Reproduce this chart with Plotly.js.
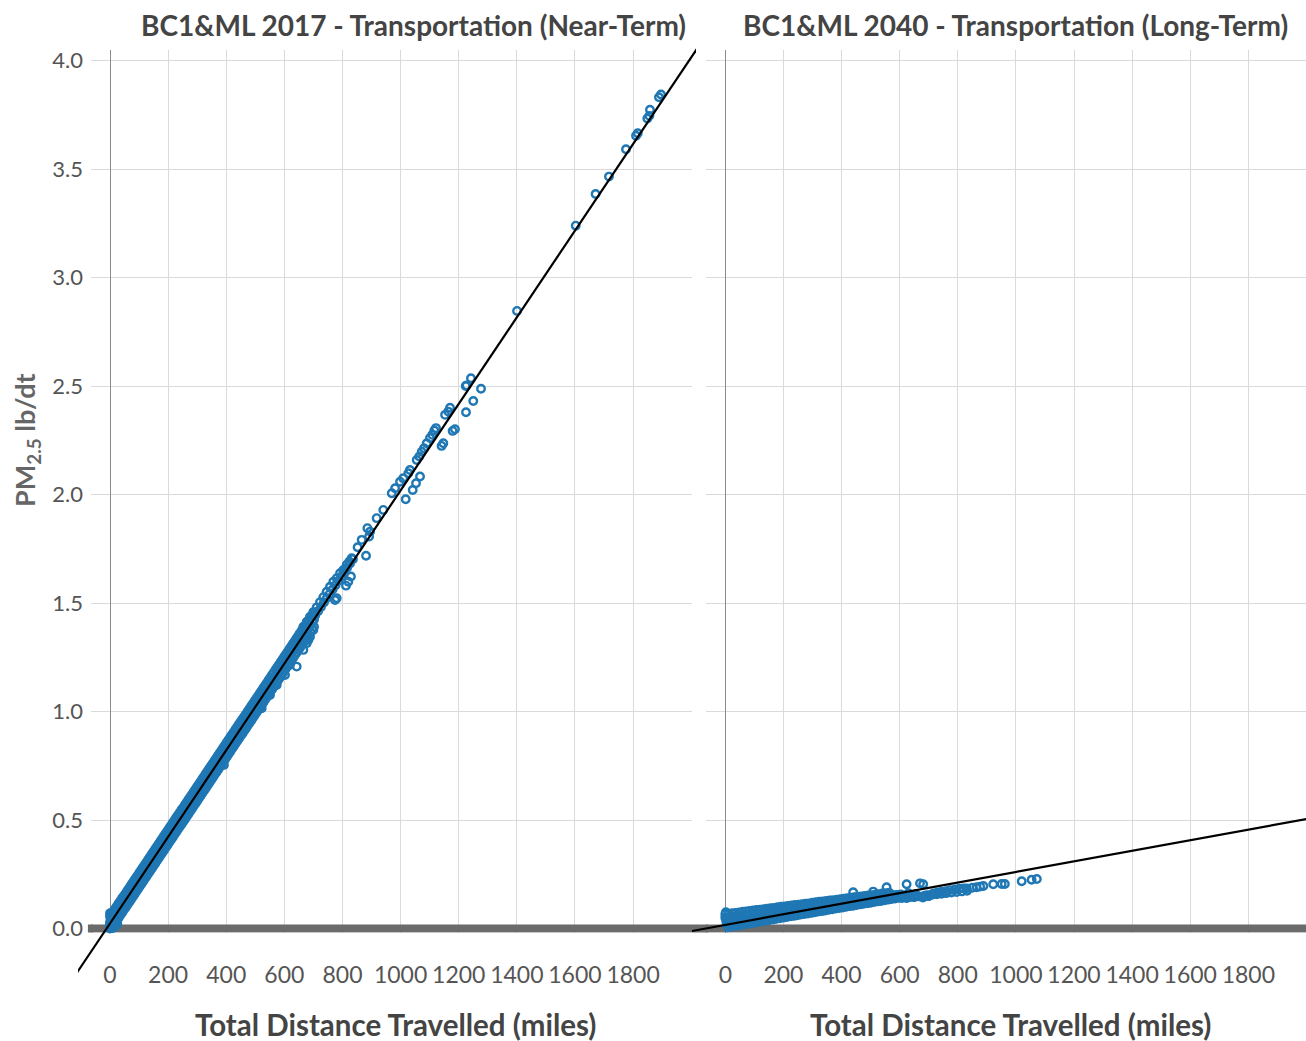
<!DOCTYPE html>
<html>
<head>
<meta charset="utf-8">
<script src="https://cdn.plot.ly/plotly-3.0.1.min.js"></script>
<style>html,body{margin:0;padding:0;background:#fff;}#chart{width:1306px;height:1041px;}</style>
</head>
<body>
<div id="chart"></div>
<script>
// ---------------- DATA ----------------
var panelTitles = ['BC1&amp;ML 2017 - Transportation (Near-Term)', 'BC1&amp;ML 2040 - Transportation (Long-Term)'];
var xAxisTitle = 'Total Distance Travelled (miles)';
var yAxisTitle = 'PM<sub>2.5</sub> lb/dt';
var xTickVals = [0, 200, 400, 600, 800, 1000, 1200, 1400, 1600, 1800, 2000];
var xTickText = ['0', '200', '400', '600', '800', '1000', '1200', '1400', '1600', '1800', ''];
var yTickVals = [0, 0.5, 1, 1.5, 2, 2.5, 3, 3.5, 4];
var yTickText = ['0.0', '0.5', '1.0', '1.5', '2.0', '2.5', '3.0', '3.5', '4.0'];

// Left panel (2017): dense band of trips
var leftBandX = [0,6,12,18,24,30,36,42,48,54,60,66,72,78,84,90,96,102,108,114,120,126,132,138,144,150,156,162,168,174,180,186,192,198,204,210,216,222,228,234,240,246,252,258,264,270,276,282,288,294,300,306,312,318,324,330,336,342,348,354,360,366,372,378,384,390,396,402,408,414,420,426,432,438,444,450,456,462,468,474,480,486,492,498,504,510,516,522,528,534,540,546,552,558,
  564,570,576,582,588,594,600,606,612,618,624,630,636,642,648,654,660,666,672,678,684,690,696,702];
var leftBandUpperY = [0.056,0.068,0.080,0.092,0.104,0.116,0.128,0.140,0.151,0.163,
  0.175,0.187,0.199,0.211,0.223,0.235,0.247,0.259,0.271,0.283,
  0.295,0.307,0.319,0.331,0.343,0.355,0.367,0.379,0.391,0.403,
  0.415,0.427,0.439,0.451,0.463,0.475,0.487,0.499,0.511,0.523,
  0.535,0.547,0.558,0.570,0.582,0.594,0.606,0.618,0.630,0.642,
  0.654,0.666,0.678,0.690,0.702,0.714,0.726,0.738,0.750,0.762,
  0.774,0.786,0.798,0.810,0.822,0.834,0.846,0.858,0.870,0.882,
  0.894,0.906,0.918,0.930,0.942,0.954,0.965,0.977,0.989,1.001,
  1.013,1.025,1.037,1.049,1.061,1.073,1.085,1.097,1.109,1.121,
  1.133,1.145,1.157,1.169,
  1.181,1.193,1.205,1.217,1.229,1.241,1.253,1.265,1.277,1.289,1.301,1.313,1.325,1.337,1.349,1.361,1.373,1.385,1.396,1.408,1.420,1.432,1.444,1.456];
var leftBandMidY = [0.024,0.036,0.048,0.060,0.072,0.084,0.096,0.108,0.120,0.131,
  0.143,0.155,0.167,0.179,0.191,0.203,0.215,0.227,0.239,0.251,
  0.263,0.275,0.287,0.299,0.311,0.323,0.335,0.347,0.359,0.371,
  0.383,0.395,0.407,0.419,0.431,0.443,0.455,0.467,0.479,0.491,
  0.502,0.514,0.526,0.538,0.550,0.562,0.574,0.586,0.598,0.610,
  0.622,0.634,0.646,0.658,0.670,0.682,0.694,0.706,0.718,0.730,
  0.742,0.754,0.766,0.778,0.790,0.802,0.814,0.826,0.838,0.850,
  0.862,0.874,0.886,0.898,0.910,0.921,0.933,0.945,0.957,0.969,
  0.981,0.993,1.005,1.017,1.029,1.041,1.053,1.065,1.077,1.089,
  1.101,1.113,1.125,1.137,
  1.149,1.161,1.173,1.185,1.197,1.209,1.221,1.233,1.245,1.257,1.269,1.281,1.293,1.305,1.317,1.328,1.340,1.352,1.364,1.376,1.388,1.400,1.412,1.424];
var leftBandLowerY = [0.000,0.002,0.014,0.026,0.038,0.050,0.062,0.074,0.086,0.097,
  0.109,0.121,0.133,0.145,0.157,0.169,0.181,0.193,0.205,0.217,
  0.229,0.241,0.253,0.265,0.277,0.289,0.301,0.313,0.325,0.337,
  0.349,0.361,0.373,0.385,0.397,0.409,0.421,0.433,0.445,0.457,
  0.469,0.481,0.492,0.504,0.516,0.528,0.540,0.552,0.564,0.576,
  0.588,0.600,0.612,0.624,0.636,0.648,0.660,0.672,0.684,0.696,
  0.708,0.720,0.732,0.744,0.756,0.768,0.780,0.792,0.804,0.816,
  0.828,0.840,0.852,0.864,0.876,0.888,0.899,0.911,0.923,0.935,
  0.947,0.959,0.971,0.983,0.995,1.007,1.019,1.031,1.043,1.055,
  1.067,1.079,1.091,1.103,
  1.115,1.127,1.139,1.151,1.163,1.175,1.187,1.199,1.211,1.223,1.235,1.247,1.259,1.271,1.283,1.294,1.306,1.318,1.330,1.342,1.354,1.366,1.378,1.390];
var leftBandInnerX = [3,9,15,21,27,33,39,45,51,57,63,69,75,81,87,93,99,105,111,117,123,129,135,141,147,153,159,165,171,177,183,189,195,201,207,213,219,225,231,237,243,249,255,261,267,273,279,285,291,297,303,309,315,321,327,333,339,345,351,357,363,369,375,381,387,393,399,405,411,417,423,429,435,441,447,453,459,465,471,477,483,489,495,501,507,513,519,525,531,537,543,549,555];
var leftBandInnerUpperY = [0.047,0.059,0.071,0.083,0.095,0.107,0.119,0.131,0.143,0.154,
  0.166,0.178,0.190,0.202,0.214,0.226,0.238,0.250,0.262,0.274,
  0.286,0.298,0.310,0.322,0.334,0.346,0.358,0.370,0.382,0.394,
  0.406,0.418,0.430,0.442,0.454,0.466,0.478,0.490,0.502,0.514,
  0.526,0.538,0.549,0.561,0.573,0.585,0.597,0.609,0.621,0.633,
  0.645,0.657,0.669,0.681,0.693,0.705,0.717,0.729,0.741,0.753,
  0.765,0.777,0.789,0.801,0.813,0.825,0.837,0.849,0.861,0.873,
  0.885,0.897,0.909,0.921,0.933,0.945,0.956,0.968,0.980,0.992,
  1.004,1.016,1.028,1.040,1.052,1.064,1.076,1.088,1.100,1.112,
  1.124,1.136,1.148];
var leftBandInnerLowerY = [0.012,0.024,0.036,0.048,0.060,0.072,0.084,0.096,0.108,0.119,
  0.131,0.143,0.155,0.167,0.179,0.191,0.203,0.215,0.227,0.239,
  0.251,0.263,0.275,0.287,0.299,0.311,0.323,0.335,0.347,0.359,
  0.371,0.383,0.395,0.407,0.419,0.431,0.443,0.455,0.467,0.479,
  0.491,0.503,0.514,0.526,0.538,0.550,0.562,0.574,0.586,0.598,
  0.610,0.622,0.634,0.646,0.658,0.670,0.682,0.694,0.706,0.718,
  0.730,0.742,0.754,0.766,0.778,0.790,0.802,0.814,0.826,0.838,
  0.850,0.862,0.874,0.886,0.898,0.910,0.921,0.933,0.945,0.957,
  0.969,0.981,0.993,1.005,1.017,1.029,1.041,1.053,1.065,1.077,
  1.089,1.101,1.113];
var leftOriginX = [0, 0, 1, 2, 3, 0, 4, 6, 12, 15, 20, 25];
var leftOriginY = [0.004, 0.018, 0.035, 0.052, 0.065, 0.070, 0.010, 0.002, 0.004, 0.010, 0.014, 0.022];
var leftSparseX = [
  562,573.6,585,596.4,608,619.4,630.9,642.4,653.8,
  550.6,573.6,602.2,619.4,642.4,665.2,676.9,682.5,688.2,699.6,522,392,
  706,716,726,736,746,756,766,776,786,796,806,816,826,836,
  665.2,676.9,688.2,699.6,711.2,722.6,734,745.6,757,774.5,780,
  768.4,780.1,791.5,802.8,814.6,823.5,831.7,812,820,829,
  852,866,881,885.7,891.6,895,917.6,940.5,
  969.5,981,998,1009,1017.5,1026.5,1032,1041.6,1053,1066.8,
  1055.4,1064.3,1072.6,1080.5,1090,1101,1109,1116,1121.8,
  1141,1147,1153,1164,1170,1179,1187,1224,1225,1227,1242,1250,1276.7,
  1400.6,1602.6,1671,1717,1775.6,1810,1816,1849,1856,1858,1889,1896];
var leftSparseY = [
  1.153,1.176,1.199,1.222,1.245,1.268,1.299,1.330,1.361,
  1.076,1.122,1.168,1.215,1.207,1.284,1.315,1.330,1.345,1.376,1.015,0.754,
  1.442,1.462,1.482,1.502,1.522,1.542,1.562,1.582,1.602,1.622,1.642,1.662,1.682,1.702,
  1.391,1.414,1.437,1.458,1.480,1.504,1.527,1.552,1.575,1.514,1.522,
  1.598,1.614,1.637,1.652,1.676,1.691,1.706,1.580,1.598,1.622,
  1.757,1.791,1.718,1.845,1.806,1.829,1.891,1.929,
  2.006,2.029,2.059,2.075,1.978,2.098,2.113,2.021,2.052,2.083,
  2.159,2.175,2.197,2.213,2.236,2.260,2.275,2.295,2.306,
  2.224,2.236,2.367,2.382,2.400,2.293,2.301,2.500,2.379,2.502,2.536,2.431,2.487,
  2.846,3.239,3.385,3.465,3.591,3.653,3.665,3.733,3.745,3.773,3.831,3.843];

// Right panel (2040) band
var rightBandUX = [0,12,24,36,48,60,72,84,96,108,120,132,144,156,168,180,192,204,216,228,240,252,264,276,288,300,312,324,336,348,360,372,384,396,408,420,432,444,456,468,480,492,504,516,528,540,552,564];
var rightBandUY = [0.066,0.068,0.070,0.072,0.074,0.077,0.079,0.081,0.083,0.085,0.087,0.089,0.091,0.093,0.095,0.098,0.100,0.102,0.104,0.106,0.108,0.110,0.112,0.114,0.116,0.119,0.121,0.123,0.125,0.127,0.129,0.131,0.133,0.135,0.137,0.140,0.142,0.144,0.146,0.148,0.150,0.152,0.154,0.156,0.158,0.161,0.163,0.165];
var rightBandUMX = [6,18,30,42,54,66,78,90,102,114,126,138,150,162,174,186,198,210,222,234,246,258,270,282,294,306,318,330,342,354,366,378,390,402,414,426,438,450,462,474,486,498,510,522,534,546,558,570];
var rightBandUMY = [0.051,0.053,0.056,0.058,0.060,0.062,0.065,0.067,0.069,0.071,0.074,0.076,0.078,0.081,0.083,0.085,0.087,0.090,0.092,0.094,0.096,0.099,0.101,0.103,0.105,0.108,0.110,0.112,0.115,0.117,0.119,0.121,0.124,0.126,0.128,0.130,0.133,0.135,0.137,0.139,0.142,0.144,0.146,0.149,0.151,0.153,0.155,0.158];
var rightBandMX = [4,16,28,40,52,64,76,88,100,112,124,136,148,160,172,184,196,208,220,232,244,256,268,280,292,304,316,328,340,352,364,376,388,400,412,424,436,448,460,472,484,496,508,520,532,544,556,568,580,592,604];
var rightBandMY = [0.036,0.038,0.041,0.043,0.046,0.048,0.051,0.053,0.055,0.058,0.060,0.063,0.065,0.068,0.070,0.072,0.075,0.077,0.080,0.082,0.085,0.087,0.089,0.092,0.094,0.097,0.099,0.102,0.104,0.106,0.109,0.111,0.114,0.116,0.119,0.121,0.123,0.126,0.128,0.131,0.133,0.136,0.138,0.140,0.143,0.145,0.148,0.150,0.153,0.155,0.157];
var rightBandMLX = [10,22,34,46,58,70,82,94,106,118,130,142,154,166,178,190,202,214,226,238,250,262,274,286,298,310,322,334,346,358,370,382,394,406,418,430,442,454,466,478,490,502,514,526,538,550,562,574,586,598,610];
var rightBandMLY = [0.021,0.024,0.026,0.029,0.031,0.034,0.037,0.039,0.042,0.044,0.047,0.050,0.052,0.055,0.057,0.060,0.063,0.065,0.068,0.070,0.073,0.075,0.078,0.081,0.083,0.086,0.088,0.091,0.094,0.096,0.099,0.101,0.104,0.107,0.109,0.112,0.114,0.117,0.120,0.122,0.125,0.127,0.130,0.133,0.135,0.138,0.140,0.143,0.146,0.148,0.151];
var rightBandLX = [8,20,32,44,56,68,80,92,104,116,128,140,152,164,176,188,200,212,224,236,248,260,272,284,296,308,320,332,344,356,368,380,392,404,416,428,440,452,464,476,488,500,512,524,536,548,560,572,584,596,608];
var rightBandLY = [0.006,0.009,0.012,0.014,0.017,0.020,0.023,0.025,0.028,0.031,0.034,0.036,0.039,0.042,0.045,0.047,0.050,0.053,0.056,0.058,0.061,0.064,0.067,0.069,0.072,0.075,0.078,0.080,0.083,0.086,0.089,0.092,0.094,0.097,0.100,0.103,0.105,0.108,0.111,0.114,0.116,0.119,0.122,0.125,0.127,0.130,0.133,0.136,0.138,0.141,0.144];
var rightTailX = [612,624,630,640,650,655,670,681,690,700,716,730,745,760,773,790,805,820,831,850,865,877,888,922,951,962,1020,1054,1072,440,509,555,625,650,680,700,0,2,4,
  608,622,636,652,666,684,698,712,728,744,760,778,796,814,832];
var rightTailY = [0.150,0.204,0.163,0.148,0.145,0.158,0.208,0.204,0.152,0.150,0.162,0.166,0.170,0.172,0.177,0.180,0.183,0.185,0.185,0.188,0.190,0.193,0.196,0.204,0.205,0.205,0.218,0.225,0.228,0.167,0.170,0.190,0.140,0.145,0.143,0.150,0.050,0.075,0.030,
  0.140,0.142,0.145,0.147,0.148,0.150,0.153,0.156,0.158,0.160,0.163,0.166,0.168,0.171,0.174];

// Fitted lines (end points)
var leftFitX = [-115, 2020];
var leftFitY = [-0.206, 4.054];
var rightFitX = [-115, 2010];
var rightFitY = [-0.0116, 0.507];
// zero baseline pieces
var baseY = [0, 0];
var baseLeftX = [-66, 2003];
var baseRightX = [-67, 2000];
var baseLeftEdgeX = [-76, -60];
var baseGapX = [-125, -60];

// ---------------- LAYOUT GEOMETRY (pixels) ----------------
var W = 1306, H = 1041;
var leftDom = [91, 692], leftRange = [-65.4, 2002.7];
var rightDom = [706, 1306], rightRange = [-66.4, 1998.3];
var yDomTopBottom = [50, 932.8], yRange = [-0.0198, 4.0484];
var leftDataDom = [78, 696], rightDataDom = [692, 1306], yDataTopBottom = [48, 980];

function mapLin(dom, rng, newDom) {
  var s = (rng[1] - rng[0]) / (dom[1] - dom[0]);
  return [rng[0] + (newDom[0] - dom[0]) * s, rng[0] + (newDom[1] - dom[0]) * s];
}
function ydom(tb) { return [1 - tb[1] / H, 1 - tb[0] / H]; }
function xdom(d) { return [d[0] / W, Math.min(1, d[1] / W)]; }
var yUp = [H - yDomTopBottom[1], H - yDomTopBottom[0]];
var yDataUp = [H - yDataTopBottom[1], H - yDataTopBottom[0]];

var blue = '#1f77b4';
var mk = {symbol: 'circle-open', size: 7.5, color: blue, line: {width: 2.4, color: blue}};
function pts(xs, ys, xa, ya) {
  return {x: xs, y: ys, xaxis: xa, yaxis: ya, type: 'scatter', mode: 'markers', marker: mk, hoverinfo: 'skip', cliponaxis: false};
}
function ln(xs, ys, xa, ya, style) {
  return {x: xs, y: ys, xaxis: xa, yaxis: ya, type: 'scatter', mode: 'lines', line: style, hoverinfo: 'skip'};
}
var barStyle = {color: '#6b6b6b', width: 8};
var fitStyle = {color: '#000', width: 2.2};
var traces = [
  ln(baseLeftX, baseY, 'x', 'y', barStyle),
  pts(leftBandX, leftBandLowerY, 'x', 'y'),
  pts(leftBandInnerX, leftBandInnerLowerY, 'x', 'y'),
  pts(leftBandX, leftBandMidY, 'x', 'y'),
  pts(leftBandInnerX, leftBandInnerUpperY, 'x', 'y'),
  pts(leftBandX, leftBandUpperY, 'x', 'y'),
  pts(leftOriginX, leftOriginY, 'x', 'y'),
  pts(leftSparseX, leftSparseY, 'x', 'y'),
  ln(baseRightX, baseY, 'x2', 'y', barStyle),
  pts(rightBandLX, rightBandLY, 'x2', 'y'),
  pts(rightBandMLX, rightBandMLY, 'x2', 'y'),
  pts(rightBandMX, rightBandMY, 'x2', 'y'),
  pts(rightBandUMX, rightBandUMY, 'x2', 'y'),
  pts(rightBandUX, rightBandUY, 'x2', 'y'),
  pts(rightTailX, rightTailY, 'x2', 'y'),
  ln(baseLeftEdgeX, baseY, 'x3', 'y3', barStyle),
  ln(leftFitX, leftFitY, 'x3', 'y3', fitStyle),
  ln(baseGapX, baseY, 'x4', 'y3', barStyle),
  ln(rightFitX, rightFitY, 'x4', 'y3', fitStyle)
];

var tickFontX = {family: 'Lato', size: 23, color: '#555'};
var tickFontY = {family: 'Lato', size: 22, color: '#555'};
var grid = '#dadada';
function xAxis(dom, rng) {
  return {domain: xdom(dom), range: rng, anchor: 'y', tickmode: 'array', tickvals: xTickVals, ticktext: xTickText,
    showgrid: true, gridcolor: grid, gridwidth: 1, zeroline: true, zerolinecolor: '#8a8a8a', zerolinewidth: 1,
    showline: false, ticks: '', tickfont: tickFontX, ticklabelstandoff: 26, automargin: false, fixedrange: true};
}
function hidden(dom, rng, anchor) {
  return {domain: dom, range: rng, anchor: anchor, visible: false, fixedrange: true, showgrid: false, zeroline: false};
}
var titleFont = {family: 'Lato', size: 28, color: '#444', weight: 700};
var axTitleFont = {family: 'Lato', size: 29.5, color: '#444', weight: 700};
var layout = {
  width: W, height: H, margin: {l: 0, r: 0, t: 0, b: 0}, showlegend: false,
  paper_bgcolor: '#fff', plot_bgcolor: 'rgba(0,0,0,0)',
  xaxis: xAxis(leftDom, leftRange),
  xaxis2: xAxis(rightDom, rightRange),
  yaxis: {domain: ydom(yDomTopBottom), range: yRange, anchor: 'x', tickmode: 'array', tickvals: yTickVals, ticktext: yTickText,
    showgrid: true, gridcolor: grid, gridwidth: 1, zeroline: false, showline: false, ticks: '', tickfont: tickFontY,
    ticklabelstandoff: 7, automargin: false, fixedrange: true},
  xaxis3: hidden(xdom(leftDataDom), mapLin(leftDom, leftRange, leftDataDom), 'y3'),
  xaxis4: hidden(xdom(rightDataDom), mapLin(rightDom, rightRange, rightDataDom), 'y3'),
  yaxis3: hidden(ydom(yDataTopBottom), mapLin(yUp, yRange, yDataUp), 'x3'),
  annotations: [
    {text: panelTitles[0], xref: 'paper', yref: 'paper', x: 413 / W, y: 1 - 25 / H, xanchor: 'center', yanchor: 'middle', showarrow: false, font: titleFont},
    {text: panelTitles[1], xref: 'paper', yref: 'paper', x: 1015 / W, y: 1 - 25 / H, xanchor: 'center', yanchor: 'middle', showarrow: false, font: titleFont},
    {text: xAxisTitle, xref: 'paper', yref: 'paper', x: 395 / W, y: 0, xanchor: 'center', yanchor: 'bottom', yshift: -3, showarrow: false, font: axTitleFont},
    {text: xAxisTitle, xref: 'paper', yref: 'paper', x: 1010 / W, y: 0, xanchor: 'center', yanchor: 'bottom', yshift: -3, showarrow: false, font: axTitleFont},
    {text: yAxisTitle, xref: 'paper', yref: 'paper', x: 27 / W, y: 1 - 440 / H, xanchor: 'center', yanchor: 'middle', textangle: -90, showarrow: false,
      font: {family: 'Lato', size: 27, color: '#666', weight: 700}}
  ]
};
Plotly.newPlot('chart', traces, layout, {displayModeBar: false, staticPlot: true});
</script>
</body>
</html>
